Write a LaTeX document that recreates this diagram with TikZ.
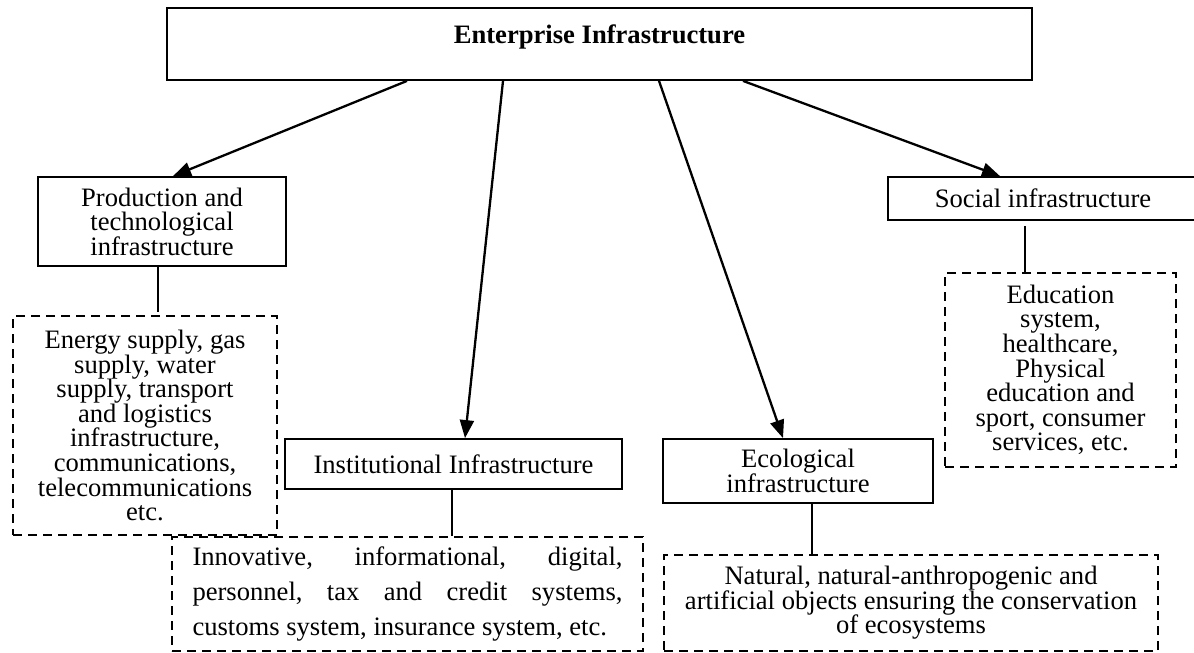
\documentclass[tikz,border=0pt]{standalone}
\usepackage{fontspec}
\setmainfont{Liberation Serif}
\usetikzlibrary{arrows.meta}
\lineskiplimit=-\maxdimen
\lineskip=0pt
\begin{document}
\begin{tikzpicture}[x=1pt,y=-1pt,
  txt/.style={font=\fontsize{26.6}{24.6}\selectfont},
  solidbox/.style={draw, line width=1.8pt, inner sep=0pt, align=center, txt},
  dashbox/.style={draw, line width=1.5pt, dash pattern=on 9pt off 6pt, inner sep=0pt, align=center, txt},
  arr/.style={line width=2.3pt, -{Triangle[length=18pt,width=14pt]}},
  conn/.style={line width=1.8pt}]
\useasboundingbox (0,0) rectangle (1194,653);

% top box
\node[draw, line width=1.8pt, minimum width=865pt, minimum height=72pt, inner sep=0pt] (top) at (599.5,44) {};
\node[font=\fontsize{26.6}{24.6}\selectfont\bfseries, inner sep=0pt] (toptext) at (599.5,37) {Enterprise Infrastructure};

% level 1
\node[solidbox, minimum width=248pt, minimum height=89pt] (prod) at (162,221.5)
  {Production and\\technological\\infrastructure};
\node[solidbox, minimum width=337pt, minimum height=50pt] (inst) at (453.5,464)
  {Institutional Infrastructure};
\node[solidbox, minimum width=270pt, minimum height=64pt] (eco) at (798,471)
  {Ecological\\infrastructure};
\node[solidbox, minimum width=310pt, minimum height=43pt] (soc) at (1043,198.5)
  {Social infrastructure};

% level 2
\node[dashbox, minimum width=264pt, minimum height=219pt] (energy) at (145,425.5)
  {Energy supply, gas\\supply, water\\supply, transport\\and logistics\\infrastructure,\\communications,\\telecommunications\\etc.};
\node[dashbox, minimum width=471pt, minimum height=114pt, align=left,
  font=\fontsize{26.6}{35}\selectfont] (innov) at (407.5,594)
  {\hbox to 430pt{Innovative,\hfill informational,\hfill digital,}\\
   \hbox to 430pt{personnel,\hfill tax\hfill and\hfill credit\hfill systems,}\\
   customs system, insurance system, etc.};
\node[dashbox, minimum width=494pt, minimum height=96pt] (nat) at (911,603)
  {Natural, natural-anthropogenic and\\artificial objects ensuring the conservation\\of ecosystems};
\node[dashbox, minimum width=231pt, minimum height=194pt] (edu) at (1060.5,370)
  {Education\\system,\\healthcare,\\Physical\\education and\\sport, consumer\\services, etc.};

% arrows
\draw[arr] (top.south -| 407,0) -- (prod.north -| 173,0);
\draw[arr] (top.south -| 503,0) -- (inst.north -| 465,0);
\draw[arr] (top.south -| 659,0) -- (eco.north -| 783,0);
\draw[arr] (top.south -| 743,0) -- (soc.north -| 1000,0);

% connectors
\draw[conn, shorten >=3pt] (prod.south -| 158,0) -- (energy.north -| 158,0);
\draw[conn] (inst.south -| 452,0) -- (innov.north -| 452,0);
\draw[conn] (eco.south -| 812,0) -- (nat.north -| 812,0);
\draw[conn, shorten <=5pt] (soc.south -| 1025,0) -- (edu.north -| 1025,0);
\end{tikzpicture}
\end{document}
